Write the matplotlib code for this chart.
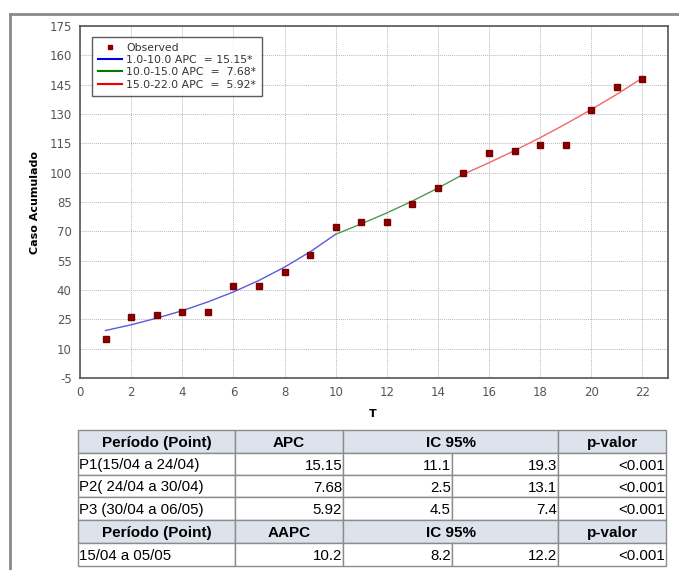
import matplotlib.pyplot as plt
from matplotlib.lines import Line2D
from matplotlib.patches import Rectangle

plt.rcParams["axes.unicode_minus"] = False

# observed cumulative cases
t = list(range(1, 23))
observed = [15, 26, 27, 29, 29, 42, 42, 49, 58, 72, 75, 75, 84, 92, 100,
            110, 111, 114, 114, 132, 144, 148]

# fitted joinpoint segments (values read at each T)
t_seg1 = list(range(1, 11))
fit_seg1 = [19.3, 22.2, 25.6, 29.4, 33.9, 39.0, 44.9, 51.7, 59.5, 68.5]
t_seg2 = list(range(10, 16))
fit_seg2 = [68.5, 73.8, 79.4, 85.5, 92.1, 99.2]
t_seg3 = list(range(15, 23))
fit_seg3 = [99.2, 105.1, 111.3, 117.9, 124.9, 132.3, 140.1, 148.4]

seg_labels = ["1.0-10.0 APC  = 15.15*", "10.0-15.0 APC  =  7.68*",
              "15.0-22.0 APC  =  5.92*"]

# table contents
table_header = ["Período (Point)", "APC", "IC 95%", "p-valor"]
table_rows = [
    ["P1(15/04 a 24/04)", "15.15", "11.1", "19.3", "<0.001"],
    ["P2( 24/04 a 30/04)", "7.68", "2.5", "13.1", "<0.001"],
    ["P3 (30/04 a 06/05)", "5.92", "4.5", "7.4", "<0.001"],
]
table_header2 = ["Período (Point)", "AAPC", "IC 95%", "p-valor"]
table_rows2 = [["15/04 a 05/05", "10.2", "8.2", "12.2", "<0.001"]]

W, H = 679, 570
fig = plt.figure(figsize=(W / 100, H / 100), dpi=100)


def fx(px):
    return px / W


def fy(py):
    return 1 - py / H


# outer frame of the chart panel
fig.add_artist(Line2D([fx(10), fx(10)], [fy(14), 0], color="#8a8a8a", lw=2))
fig.add_artist(Line2D([fx(10), 1], [fy(14), fy(14)], color="#8a8a8a", lw=2))

ax = fig.add_axes([fx(80), fy(378), fx(668) - fx(80), fy(26) - fy(378)])
ax.plot(t_seg1, fit_seg1, color="#5a5ae0", lw=1)
ax.plot(t_seg2, fit_seg2, color="#4f9a4f", lw=1)
ax.plot(t_seg3, fit_seg3, color="#ee6a6a", lw=1)
ax.plot(t, observed, linestyle="none", marker="s", ms=5,
        color="#8b0000", mec="#7a0000", zorder=5)

ax.set_xlim(0, 23)
ax.set_ylim(-5, 175)
ax.set_xticks(range(0, 23, 2))
ax.set_yticks(range(-5, 176, 15))
ax.tick_params(length=0, labelsize=8.5, labelcolor="#555555", pad=6)
ax.grid(True, color="#b8b8b8", linestyle=(0, (1, 1)), lw=0.7)
for s in ax.spines.values():
    s.set_color("#555555")
    s.set_linewidth(1.2)

fig.text(fx(35), fy(202), "Caso Acumulado", rotation=90, fontsize=8,
         fontweight="bold", ha="center", va="center")
fig.text(fx(373), fy(414), "T", fontsize=8, fontweight="bold",
         ha="center", va="center")

handles = [
    Line2D([], [], linestyle="none", marker="s", ms=3.5, color="#8b0000"),
    Line2D([], [], color="#0000dd", lw=1.5),
    Line2D([], [], color="#007a00", lw=1.5),
    Line2D([], [], color="#ee0000", lw=1.5),
]
leg = ax.legend(handles, ["Observed"] + seg_labels, loc="upper left",
                bbox_to_anchor=(0.02, 0.97), fontsize=7.8, frameon=True,
                fancybox=False, edgecolor="#333333", handlelength=2.2,
                handletextpad=0.4, labelspacing=0.22, borderpad=0.55,
                borderaxespad=0)
leg.get_frame().set_linewidth(1)
for txt in leg.get_texts():
    txt.set_color("#333333")

# table
col_x = [78, 235, 343, 452, 558, 666]
row_y = [430, 453, 475, 497, 520, 543, 566]
head_fill = "#dde3ed"
edge = "#8c8c8c"
fonts = ["Liberation Sans", "DejaVu Sans"]


def cell(x0, x1, y0, y1, fill):
    fig.add_artist(Rectangle((fx(x0), fy(y1)), fx(x1) - fx(x0),
                             fy(y0) - fy(y1), facecolor=fill,
                             edgecolor=edge, lw=1))


def header_row(labels, y0, y1):
    spans = [(0, 1), (1, 2), (2, 4), (4, 5)]
    for lab, (a, b) in zip(labels, spans):
        cell(col_x[a], col_x[b], y0, y1, head_fill)
        fig.text(fx((col_x[a] + col_x[b]) / 2), fy((y0 + y1) / 2), lab,
                 ha="center", va="center_baseline", fontsize=11,
                 fontweight="bold", family=fonts)


def data_row(vals, y0, y1):
    for i, v in enumerate(vals):
        cell(col_x[i], col_x[i + 1], y0, y1, "white")
        yc = fy((y0 + y1) / 2)
        if i == 0:
            fig.text(fx(col_x[0] + 1), yc, v, ha="left",
                     va="center_baseline", fontsize=10.8, family=fonts)
        else:
            fig.text(fx(col_x[i + 1] - 1), yc, v, ha="right",
                     va="center_baseline", fontsize=10.8, family=fonts)


header_row(table_header, row_y[0], row_y[1])
for k, r in enumerate(table_rows):
    data_row(r, row_y[k + 1], row_y[k + 2])
header_row(table_header2, row_y[4], row_y[5])
data_row(table_rows2[0], row_y[5], row_y[6])

fig.savefig("out.png", dpi=100)
